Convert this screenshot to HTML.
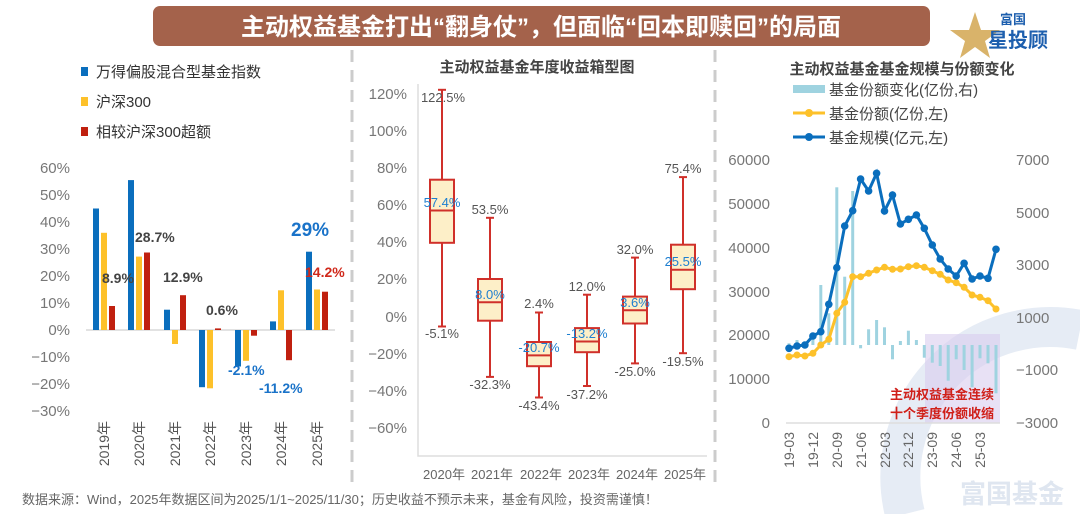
<!DOCTYPE html>
<html><head><meta charset="utf-8"><style>
html,body{margin:0;padding:0;background:#fff;}
svg{display:block;font-family:"Liberation Sans","Noto Sans CJK SC",sans-serif;}
</style></head><body>
<svg width="1080" height="514" viewBox="0 0 1080 514" xmlns="http://www.w3.org/2000/svg">
<!-- watermark -->
<path d="M905 514 A150 150 0 0 1 1080 330" fill="none" stroke="#e6ecf5" stroke-width="40"/>
<text x="960" y="503" font-size="26" font-weight="bold" fill="#dfe6f0">富国基金</text>
<!-- header -->
<rect x="153" y="6" width="777" height="40" rx="7" fill="#a4624b"/>
<text x="541" y="35" font-size="24" font-weight="bold" fill="#fff" text-anchor="middle">主动权益基金打出“翻身仗”，但面临“回本即赎回”的局面</text>
<!-- logo -->
<polygon points="975,12 981,30 1000,30 985,41 990,58 975,47 960,58 965,41 950,30 969,30" fill="#d9b36a"/>
<text x="1000" y="24" font-size="13" font-weight="bold" fill="#1d5fae">富国</text>
<text x="988" y="47" font-size="20" font-weight="bold" fill="#1d5fae">星投顾</text>
<!-- separators -->
<line x1="352" y1="50" x2="352" y2="490" stroke="#ccc" stroke-width="3" stroke-dasharray="12,8"/>
<line x1="715" y1="50" x2="715" y2="490" stroke="#ccc" stroke-width="3" stroke-dasharray="12,8"/>

<!-- LEFT CHART -->
<g font-size="15" fill="#333">
<rect x="81" y="67" width="7" height="9" fill="#0a6ebd"/><text x="96" y="77">万得偏股混合型基金指数</text>
<rect x="81" y="97" width="7" height="9" fill="#fdc12a"/><text x="96" y="107">沪深300</text>
<rect x="81" y="127" width="7" height="9" fill="#c0200f"/><text x="96" y="137">相较沪深300超额</text>
</g>
<g font-size="15" fill="#777" text-anchor="end">
<text x="70" y="173">60%</text><text x="70" y="200">50%</text><text x="70" y="227">40%</text><text x="70" y="254">30%</text><text x="70" y="281">20%</text><text x="70" y="308">10%</text><text x="70" y="335">0%</text><text x="70" y="362">−10%</text><text x="70" y="389">−20%</text><text x="70" y="416">−30%</text>
</g>
<line x1="86" y1="330" x2="335" y2="330" stroke="#d9d9d9" stroke-width="1.5"/>
<g fill="#0a6ebd">
<rect x="93" y="208.5" width="6" height="121.5"/><rect x="128" y="180.1" width="6" height="149.9"/><rect x="164" y="309.7" width="6" height="20.3"/><rect x="199" y="330" width="6" height="57.2"/><rect x="235" y="330" width="6" height="36.5"/><rect x="270" y="321.4" width="6" height="8.6"/><rect x="306" y="251.7" width="6" height="78.3"/>
</g>
<g fill="#fdc12a">
<rect x="101" y="232.8" width="6" height="97.2"/><rect x="136" y="256.6" width="6" height="73.4"/><rect x="172" y="330" width="6" height="14"/><rect x="207" y="330" width="6" height="58.3"/><rect x="243" y="330" width="6" height="30.8"/><rect x="278" y="290.3" width="6" height="39.7"/><rect x="314" y="289.5" width="6" height="40.5"/>
</g>
<g fill="#c0200f">
<rect x="109" y="306" width="6" height="24"/><rect x="144" y="252.5" width="6" height="77.5"/><rect x="180" y="295.2" width="6" height="34.8"/><rect x="215" y="328.4" width="6" height="1.6"/><rect x="251" y="330" width="6" height="5.7"/><rect x="286" y="330" width="6" height="30.2"/><rect x="322" y="291.7" width="6" height="38.3"/>
</g>
<g font-size="14" font-weight="bold" fill="#444">
<text x="102" y="283">8.9%</text><text x="135" y="242">28.7%</text><text x="163" y="282">12.9%</text><text x="206" y="315">0.6%</text>
</g>
<g font-size="14" font-weight="bold" fill="#1a73c9">
<text x="228" y="375">-2.1%</text><text x="259" y="393">-11.2%</text>
<text x="291" y="236" font-size="19">29%</text>
</g>
<text x="305" y="277" font-size="14" font-weight="bold" fill="#d0281a">14.2%</text>
<g font-size="14" fill="#555" text-anchor="end">
<text transform="translate(109,421) rotate(-90)">2019年</text>
<text transform="translate(144,421) rotate(-90)">2020年</text>
<text transform="translate(180,421) rotate(-90)">2021年</text>
<text transform="translate(215,421) rotate(-90)">2022年</text>
<text transform="translate(251,421) rotate(-90)">2023年</text>
<text transform="translate(286,421) rotate(-90)">2024年</text>
<text transform="translate(322,421) rotate(-90)">2025年</text>
</g>

<!-- MIDDLE CHART -->
<text x="537" y="72" font-size="15" font-weight="bold" fill="#444" text-anchor="middle">主动权益基金年度收益箱型图</text>
<g font-size="15" fill="#777" text-anchor="end">
<text x="407" y="99">120%</text><text x="407" y="136">100%</text><text x="407" y="173">80%</text><text x="407" y="210">60%</text><text x="407" y="247">40%</text><text x="407" y="284">20%</text><text x="407" y="322">0%</text><text x="407" y="359">−20%</text><text x="407" y="396">−40%</text><text x="407" y="433">−60%</text>
</g>
<polyline points="418,84 418,456 707,456" fill="none" stroke="#ddd" stroke-width="1.5"/>
<g stroke="#d0302a" stroke-width="2" fill="#fdefc8">
<line x1="442" y1="89.8" x2="442" y2="326.5"/><line x1="438" y1="89.8" x2="446" y2="89.8"/><line x1="438" y1="326.5" x2="446" y2="326.5"/>
<rect x="430" y="179.7" width="24" height="63.1"/><line x1="430" y1="210.5" x2="454" y2="210.5"/>
<line x1="490" y1="217.8" x2="490" y2="376.9"/><line x1="486" y1="217.8" x2="494" y2="217.8"/><line x1="486" y1="376.9" x2="494" y2="376.9"/>
<rect x="478" y="279" width="24" height="41.7"/><line x1="478" y1="302.2" x2="502" y2="302.2"/>
<line x1="539" y1="312.5" x2="539" y2="397.5"/><line x1="535" y1="312.5" x2="543" y2="312.5"/><line x1="535" y1="397.5" x2="543" y2="397.5"/>
<rect x="527" y="342" width="24" height="24.2"/><line x1="527" y1="355.4" x2="551" y2="355.4"/>
<line x1="587" y1="294.7" x2="587" y2="386"/><line x1="583" y1="294.7" x2="591" y2="294.7"/><line x1="583" y1="386" x2="591" y2="386"/>
<rect x="575" y="328.1" width="24" height="24.1"/><line x1="575" y1="341.5" x2="599" y2="341.5"/>
<line x1="635" y1="257.6" x2="635" y2="363.4"/><line x1="631" y1="257.6" x2="639" y2="257.6"/><line x1="631" y1="363.4" x2="639" y2="363.4"/>
<rect x="623" y="296.6" width="24" height="26.9"/><line x1="623" y1="310.3" x2="647" y2="310.3"/>
<line x1="683" y1="177.1" x2="683" y2="353.2"/><line x1="679" y1="177.1" x2="687" y2="177.1"/><line x1="679" y1="353.2" x2="687" y2="353.2"/>
<rect x="671" y="244.7" width="24" height="44.5"/><line x1="671" y1="269.7" x2="695" y2="269.7"/>
</g>
<g font-size="13" fill="#555" text-anchor="middle">
<text x="443" y="102">122.5%</text><text x="442" y="338">-5.1%</text>
<text x="490" y="214">53.5%</text><text x="490" y="389">-32.3%</text>
<text x="539" y="308">2.4%</text><text x="539" y="410">-43.4%</text>
<text x="587" y="291">12.0%</text><text x="587" y="399">-37.2%</text>
<text x="635" y="254">32.0%</text><text x="635" y="376">-25.0%</text>
<text x="683" y="173">75.4%</text><text x="683" y="366">-19.5%</text>
</g>
<g font-size="13" fill="#1e7fd0" text-anchor="middle">
<text x="442" y="207">57.4%</text><text x="490" y="299">8.0%</text><text x="539" y="352">-20.7%</text><text x="587" y="338">-13.2%</text><text x="635" y="307">3.6%</text><text x="683" y="266">25.5%</text>
</g>
<g font-size="13" fill="#666" text-anchor="middle">
<text x="444" y="479">2020年</text><text x="492" y="479">2021年</text><text x="541" y="479">2022年</text><text x="589" y="479">2023年</text><text x="637" y="479">2024年</text><text x="685" y="479">2025年</text>
</g>

<!-- RIGHT CHART -->
<text x="902" y="74" font-size="15" font-weight="bold" fill="#444" text-anchor="middle">主动权益基金基金规模与份额变化</text>
<rect x="793" y="85" width="32" height="8" fill="#9fd3e0"/>
<text x="829" y="95" font-size="15" fill="#444">基金份额变化(亿份,右)</text>
<line x1="793" y1="113" x2="825" y2="113" stroke="#fdc12a" stroke-width="3"/><circle cx="809" cy="113" r="4" fill="#fdc12a"/>
<text x="829" y="119" font-size="15" fill="#444">基金份额(亿份,左)</text>
<line x1="793" y1="137" x2="825" y2="137" stroke="#0a6ebd" stroke-width="3"/><circle cx="809" cy="137" r="4" fill="#0a6ebd"/>
<text x="829" y="143" font-size="15" fill="#444">基金规模(亿元,左)</text>
<g font-size="15" fill="#777" text-anchor="end">
<text x="770" y="165">60000</text><text x="770" y="209">50000</text><text x="770" y="253">40000</text><text x="770" y="297">30000</text><text x="770" y="340">20000</text><text x="770" y="384">10000</text><text x="770" y="428">0</text>
</g>
<g font-size="15" fill="#777">
<text x="1016" y="165">7000</text><text x="1016" y="218">5000</text><text x="1016" y="270">3000</text><text x="1016" y="323">1000</text><text x="1016" y="375">−1000</text><text x="1016" y="428">−3000</text>
</g>
<rect x="925" y="334" width="75" height="89" fill="#d9cdee" opacity="0.6"/>
<line x1="786" y1="423" x2="1000" y2="423" stroke="#ddd" stroke-width="1.5"/>
<g fill="#9fd3e0">
<rect x="787.5" y="343.3" width="3" height="1.7"/><rect x="795.5" y="340" width="3" height="5"/><rect x="803.4" y="343.3" width="3" height="1.7"/><rect x="811.4" y="338.3" width="3" height="6.7"/><rect x="819.3" y="285" width="3" height="60"/><rect x="827.3" y="313.3" width="3" height="31.7"/><rect x="835.3" y="187.3" width="3" height="157.7"/><rect x="843.2" y="276.7" width="3" height="68.3"/><rect x="851.2" y="191" width="3" height="154"/>
<rect x="859.1" y="345" width="3" height="3.3"/><rect x="867.1" y="329.3" width="3" height="15.7"/><rect x="875.1" y="320" width="3" height="25"/><rect x="883" y="327.3" width="3" height="17.7"/><rect x="891" y="345" width="3" height="14.3"/><rect x="898.9" y="341" width="3" height="4"/><rect x="906.9" y="330.7" width="3" height="14.3"/><rect x="914.9" y="340" width="3" height="5"/>
<rect x="922.8" y="345" width="3" height="12.7"/><rect x="930.8" y="345" width="3" height="17.7"/><rect x="938.7" y="345" width="3" height="21"/><rect x="946.7" y="345" width="3" height="35.7"/><rect x="954.7" y="345" width="3" height="14.3"/><rect x="962.6" y="345" width="3" height="25"/><rect x="970.6" y="345" width="3" height="42.3"/><rect x="978.5" y="345" width="3" height="13.3"/><rect x="986.5" y="345" width="3" height="18.3"/><rect x="994.5" y="345" width="3" height="48.3"/>
</g>
<polyline fill="none" stroke="#fdc12a" stroke-width="3" points="789,356.7 797,355 804.9,356 812.9,353.3 820.8,345 828.8,339.3 836.8,313.3 844.7,302.3 852.7,276.7 860.6,276.7 868.6,273.3 876.6,270 884.5,267.3 892.5,269.3 900.4,269 908.4,266.7 916.4,265.7 924.3,267.3 932.3,270.7 940.2,274.3 948.2,280 956.2,282.7 964.1,287.3 972.1,295 980,297.3 988,300.7 996,309"/>
<g fill="#fdc12a">
<circle cx="789" cy="356.7" r="3.5"/><circle cx="797" cy="355" r="3.5"/><circle cx="804.9" cy="356" r="3.5"/><circle cx="812.9" cy="353.3" r="3.5"/><circle cx="820.8" cy="345" r="3.5"/><circle cx="828.8" cy="339.3" r="3.5"/><circle cx="836.8" cy="313.3" r="3.5"/><circle cx="844.7" cy="302.3" r="3.5"/><circle cx="852.7" cy="276.7" r="3.5"/><circle cx="860.6" cy="276.7" r="3.5"/><circle cx="868.6" cy="273.3" r="3.5"/><circle cx="876.6" cy="270" r="3.5"/><circle cx="884.5" cy="267.3" r="3.5"/><circle cx="892.5" cy="269.3" r="3.5"/><circle cx="900.4" cy="269" r="3.5"/><circle cx="908.4" cy="266.7" r="3.5"/><circle cx="916.4" cy="265.7" r="3.5"/><circle cx="924.3" cy="267.3" r="3.5"/><circle cx="932.3" cy="270.7" r="3.5"/><circle cx="940.2" cy="274.3" r="3.5"/><circle cx="948.2" cy="280" r="3.5"/><circle cx="956.2" cy="282.7" r="3.5"/><circle cx="964.1" cy="287.3" r="3.5"/><circle cx="972.1" cy="295" r="3.5"/><circle cx="980" cy="297.3" r="3.5"/><circle cx="988" cy="300.7" r="3.5"/><circle cx="996" cy="309" r="3.5"/>
</g>
<polyline fill="none" stroke="#0a6ebd" stroke-width="3" points="789,348.3 797,346 804.9,345 812.9,336 820.8,331.7 828.8,304.3 836.8,267.7 844.7,226 852.7,210.7 860.6,179 868.6,191 876.6,173.3 884.5,211 892.5,195 900.4,224 908.4,219.3 916.4,215 924.3,228.3 932.3,245 940.2,259 948.2,269 956.2,276 964.1,263.3 972.1,279 980,276 988,278.3 996,249.3"/>
<g fill="#0a6ebd">
<circle cx="789" cy="348.3" r="3.8"/><circle cx="797" cy="346" r="3.8"/><circle cx="804.9" cy="345" r="3.8"/><circle cx="812.9" cy="336" r="3.8"/><circle cx="820.8" cy="331.7" r="3.8"/><circle cx="828.8" cy="304.3" r="3.8"/><circle cx="836.8" cy="267.7" r="3.8"/><circle cx="844.7" cy="226" r="3.8"/><circle cx="852.7" cy="210.7" r="3.8"/><circle cx="860.6" cy="179" r="3.8"/><circle cx="868.6" cy="191" r="3.8"/><circle cx="876.6" cy="173.3" r="3.8"/><circle cx="884.5" cy="211" r="3.8"/><circle cx="892.5" cy="195" r="3.8"/><circle cx="900.4" cy="224" r="3.8"/><circle cx="908.4" cy="219.3" r="3.8"/><circle cx="916.4" cy="215" r="3.8"/><circle cx="924.3" cy="228.3" r="3.8"/><circle cx="932.3" cy="245" r="3.8"/><circle cx="940.2" cy="259" r="3.8"/><circle cx="948.2" cy="269" r="3.8"/><circle cx="956.2" cy="276" r="3.8"/><circle cx="964.1" cy="263.3" r="3.8"/><circle cx="972.1" cy="279" r="3.8"/><circle cx="980" cy="276" r="3.8"/><circle cx="988" cy="278.3" r="3.8"/><circle cx="996" cy="249.3" r="3.8"/>
</g>
<g font-size="13" font-weight="bold" fill="#d0201a">
<text x="890" y="399">主动权益基金连续</text>
<text x="890" y="418">十个季度份额收缩</text>
</g>
<g font-size="14" fill="#666" text-anchor="end">
<text transform="translate(794,432) rotate(-90)">19-03</text>
<text transform="translate(818,432) rotate(-90)">19-12</text>
<text transform="translate(842,432) rotate(-90)">20-09</text>
<text transform="translate(866,432) rotate(-90)">21-06</text>
<text transform="translate(890,432) rotate(-90)">22-03</text>
<text transform="translate(913,432) rotate(-90)">22-12</text>
<text transform="translate(937,432) rotate(-90)">23-09</text>
<text transform="translate(961,432) rotate(-90)">24-06</text>
<text transform="translate(985,432) rotate(-90)">25-03</text>
</g>

<text x="22" y="504" font-size="13" fill="#666">数据来源：Wind，2025年数据区间为2025/1/1~2025/11/30；历史收益不预示未来，基金有风险，投资需谨慎！</text>
</svg>
</body></html>
